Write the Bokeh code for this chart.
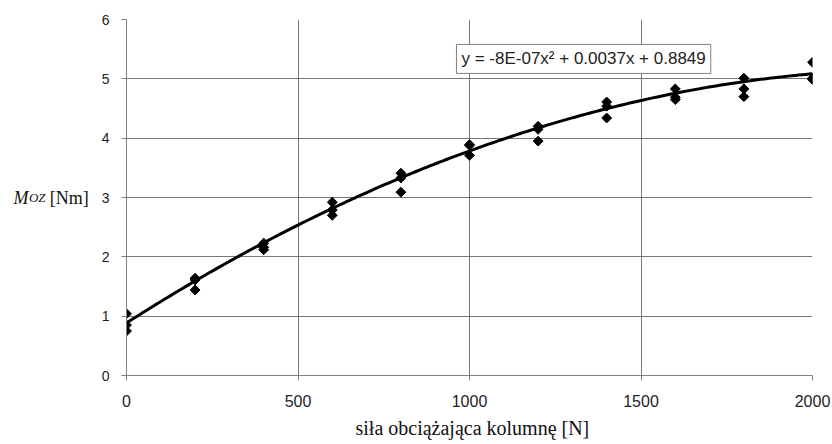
import numpy as np
from bokeh.plotting import figure
from bokeh.models import Label, Title, Range1d, FixedTicker, LinearAxis
from bokeh.embed import file_html
from bokeh.resources import INLINE

# ---- data ----
force_x = [0, 0, 0,
           200, 200, 200,
           400, 400, 400,
           600, 600, 600,
           800, 800, 800,
           1000, 1000, 1000,
           1200, 1200, 1200,
           1400, 1400, 1400,
           1600, 1600, 1600,
           1800, 1800, 1800,
           2000, 2000, 2000]
moment_y = [1.04, 0.85, 0.75,
            1.64, 1.61, 1.44,
            2.23, 2.16, 2.12,
            2.92, 2.79, 2.70,
            3.41, 3.33, 3.09,
            3.89, 3.88, 3.71,
            4.20, 4.15, 3.95,
            4.61, 4.54, 4.34,
            4.83, 4.69, 4.65,
            5.01, 4.83, 4.70,
            5.28, 5.01, 4.99]
# trendline coefficients as printed on the chart: a*x^2 + b*x + c
trend_coef = [-8e-07, 0.0037, 0.8849]
x_ticks = [0, 500, 1000, 1500, 2000]
y_ticks = [0, 1, 2, 3, 4, 5, 6]
x_title = "siła obciążająca kolumnę [N]"
y_title_main = "M"
y_title_sub = "OZ"
y_title_unit = "[Nm]"
equation_text = "y = -8E-07x\u00b2 + 0.0037x + 0.8849"

p = figure(width=832, height=444, output_backend="svg", toolbar_location=None,
           x_range=Range1d(0, 2000), y_range=Range1d(0, 6),
           min_border_left=126, min_border_right=20, min_border_top=19, min_border_bottom=69)
p.background_fill_color = "white"
p.border_fill_color = "white"
p.outline_line_color = None

for ax, ticks in ((p.xaxis, x_ticks), (p.yaxis, y_ticks)):
    ax.ticker = FixedTicker(ticks=ticks)
    ax.minor_tick_line_color = None
    ax.axis_line_color = "#808080"
    ax.axis_line_width = 1
    ax.major_tick_line_color = "#808080"
    ax.major_tick_out = 5
    ax.major_tick_in = 0
    ax.major_label_text_font = "Liberation Sans"
    ax.major_label_text_color = "#222222"
p.xaxis.major_label_text_font_size = "16px"
p.yaxis.major_label_text_font_size = "14px"
p.xaxis.major_label_standoff = 14
p.yaxis.major_label_standoff = 12

# y title pieces as horizontal axis labels (M italic, OZ italic small, [Nm] upright)
p.yaxis.axis_label = y_title_unit
p.yaxis.axis_label_orientation = "horizontal"
p.yaxis.axis_label_standoff = 10
p.yaxis.axis_label_text_font = "Liberation Serif"
p.yaxis.axis_label_text_font_style = "normal"
p.yaxis.axis_label_text_font_size = "18px"
p.yaxis.axis_label_text_color = "#111111"
p.yaxis.axis_label_text_baseline = "alphabetic"

for txt, size, standoff in ((y_title_sub, "13px", 1), (y_title_main, "18px", -3)):
    extra = LinearAxis(ticker=FixedTicker(ticks=[]), axis_line_color=None,
                       major_tick_line_color=None, minor_tick_line_color=None,
                       major_tick_out=0, major_tick_in=0, minor_tick_out=0,
                       major_label_standoff=0, major_label_text_font_size="0px",
                       axis_label=txt, axis_label_orientation="horizontal",
                       axis_label_standoff=standoff,
                       axis_label_text_font="Liberation Serif",
                       axis_label_text_font_style="italic",
                       axis_label_text_font_size=size,
                       axis_label_text_color="#111111",
                       axis_label_text_baseline="alphabetic")
    p.add_layout(extra, "left")

p.grid.grid_line_color = "#777777"
p.grid.grid_line_width = 1
p.xgrid.ticker = FixedTicker(ticks=x_ticks)
p.ygrid.ticker = FixedTicker(ticks=y_ticks)

# trendline
xs = np.linspace(0, 2000, 200)
ys = trend_coef[0] * xs**2 + trend_coef[1] * xs + trend_coef[2]
p.line(xs, ys, line_color="black", line_width=3)

# measured points
p.scatter(force_x, moment_y, marker="square", angle=np.pi / 4, size=7,
          fill_color="black", line_color="black")

# equation box
p.add_layout(Label(x=962, y=5.58, text=equation_text, anchor="top_left",
                   text_font="Liberation Sans", text_font_size="17px", text_color="#222222",
                   padding=5, background_fill_color="white",
                   border_line_color="#808080", border_line_width=1))

# x-axis title
p.add_layout(Title(text=x_title, align="left", offset=229, text_font="Liberation Serif",
                   text_font_size="20px", text_font_style="normal", text_color="#111111",
                   standoff=11),
             "below")

open("out.html", "w").write(file_html(p, INLINE))
